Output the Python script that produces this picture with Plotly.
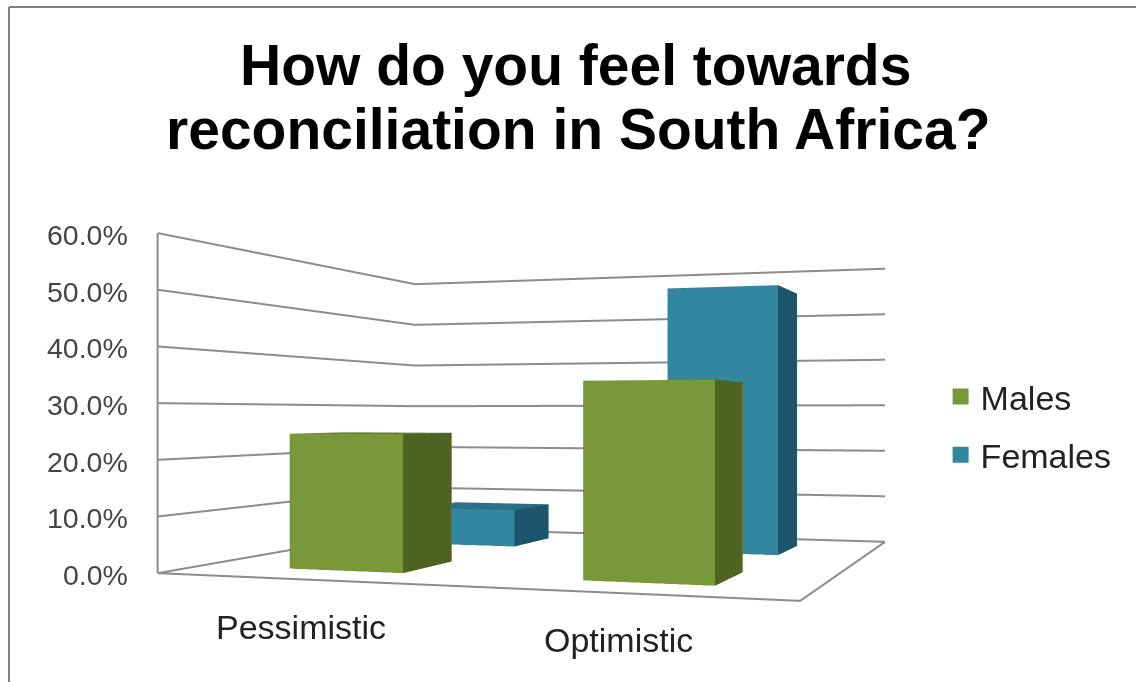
import plotly.graph_objects as go

categories = ["Pessimistic", "Optimistic"]
series_names = ["Males", "Females"]
males = [0.245, 0.337]
females = [0.077, 0.537]
title_lines = ["How do you feel towards", "reconciliation in South Africa?"]
z_ticks = [0.0, 0.1, 0.2, 0.3, 0.4, 0.5, 0.6]

FONT = "Liberation Sans"
GREEN = ("#78983a", "#4f6423", "#647f30")
BLUE = ("#33869f", "#1d566c", "#2a7088")
GRAY = "#8c8c8c"
CAT_X = [0.52, 1.51]
SER_Y = [0.47, 1.49]
HALF_W = 0.2
HALF_D = 0.2
SKEW = 0.2028  # the oblique depth of the chart's pseudo-3D box


def sx(x, y):
    return x + SKEW * y


def bar(cx, cy, h, colors, name):
    x0, x1, y0, y1 = cx - HALF_W, cx + HALF_W, cy - HALF_D, cy + HALF_D
    ys = [y0, y0, y1, y1, y0, y0, y1, y1]
    xs = [sx(a, b) for a, b in zip([x0, x1, x1, x0, x0, x1, x1, x0], ys)]
    zs = [0, 0, 0, 0, h, h, h, h]
    faces = [
        (0, 1, 5, colors[0]), (0, 5, 4, colors[0]),
        (1, 2, 6, colors[1]), (1, 6, 5, colors[1]),
        (4, 5, 6, colors[2]), (4, 6, 7, colors[2]),
        (3, 0, 4, colors[1]), (3, 4, 7, colors[1]),
        (2, 3, 7, colors[0]), (2, 7, 6, colors[0]),
    ]
    return go.Mesh3d(
        x=xs, y=ys, z=zs,
        i=[f[0] for f in faces], j=[f[1] for f in faces], k=[f[2] for f in faces],
        facecolor=[f[3] for f in faces], flatshading=True, name=name,
        lighting=dict(ambient=1, diffuse=0, specular=0, roughness=1, fresnel=0),
        hoverinfo="skip", showscale=False,
    )


fig = go.Figure()
for ci, cx in enumerate(CAT_X):
    fig.add_trace(bar(cx, SER_Y[1], females[ci], BLUE, series_names[1]))
    fig.add_trace(bar(cx, SER_Y[0], males[ci], GREEN, series_names[0]))

# value gridlines along the left and back walls, floor outline, left upright
gx, gy, gz = [], [], []
for v in z_ticks:
    gx += [sx(0, 0), sx(0, 2), sx(2, 2), None]
    gy += [0, 2, 2, None]
    gz += [v, v, v, None]
gx += [sx(0, 0), sx(2, 0), sx(2, 2), None, sx(0, 0), sx(0, 0)]
gy += [0, 0, 2, None, 0, 0]
gz += [0, 0, 0, None, 0, z_ticks[-1]]
fig.add_trace(go.Scatter3d(
    x=gx, y=gy, z=gz, mode="lines", line=dict(color=GRAY, width=4),
    showlegend=False, hoverinfo="skip",
))

# legend keys
for nm, col in zip(series_names, (GREEN[0], BLUE[0])):
    fig.add_trace(go.Scatter(
        x=[None], y=[None], mode="markers", name=nm, legendgroup=nm,
        marker=dict(symbol="square", size=17, color=col),
    ))

scene_notes = [
    dict(x=sx(0, 0), y=0, z=v, text=f"{v:.1%}", showarrow=False, xanchor="right", yanchor="middle",
         xshift=-27, yshift=-2, font=dict(size=28.5, family=FONT, color="#444444"))
    for v in z_ticks
] + [
    dict(x=sx(cx, 0), y=0, z=0, text=c, showarrow=False, xanchor="center", yanchor="middle",
         xshift=-4, yshift=-47, font=dict(size=34, family=FONT, color="#222222"))
    for cx, c in zip(CAT_X, categories)
]

axis_off = dict(visible=False, showbackground=False, showgrid=False, zeroline=False,
                showspikes=False, title="", showticklabels=False, showline=False, ticks="")
fig.update_layout(
    width=1136, height=682, autosize=False,
    margin=dict(l=0, r=0, t=0, b=0),
    paper_bgcolor="white", plot_bgcolor="white",
    font=dict(family=FONT, color="#222222"),
    xaxis=dict(visible=False), yaxis=dict(visible=False),
    legend=dict(x=0.828, y=0.2905, xanchor="left", yanchor="bottom",
                font=dict(size=34, family=FONT, color="#222222"),
                bgcolor="rgba(0,0,0,0)", tracegroupgap=11),
    scene=dict(
        domain=dict(x=[0.13, 1], y=[0, 0.786]),
        aspectmode="manual", aspectratio=dict(x=2.2155, y=0.8156, z=1),
        xaxis=dict(axis_off, range=[sx(0, 0), sx(2, 2)]),
        yaxis=dict(axis_off, range=[0, 2]),
        zaxis=dict(axis_off, range=[z_ticks[0], z_ticks[-1]]),
        camera=dict(
            eye=dict(x=0.5907, y=-2.0699, z=-0.032),
            center=dict(x=0.2638, y=0.0409, z=-0.032),
            up=dict(x=0, y=0, z=1),
            projection=dict(type="perspective"),
        ),
        annotations=scene_notes,
    ),
    annotations=[
        dict(text=title_lines[0], xref="paper", yref="paper", x=575 / 1136, y=1 - 65 / 682,
             xanchor="center", yanchor="middle", showarrow=False,
             font=dict(size=57, family=FONT, color="black", weight="bold")),
        dict(text=title_lines[1], xref="paper", yref="paper", x=578 / 1136, y=1 - 129 / 682,
             xanchor="center", yanchor="middle", showarrow=False,
             font=dict(size=57, family=FONT, color="black", weight="bold")),
    ],
    shapes=[
        dict(type="line", xref="paper", yref="paper", x0=9 / 1136, x1=1, y0=1 - 7 / 682, y1=1 - 7 / 682,
             line=dict(color="#808080", width=2)),
        dict(type="line", xref="paper", yref="paper", x0=9 / 1136, x1=9 / 1136, y0=0, y1=1 - 7 / 682,
             line=dict(color="#808080", width=2)),
    ],
)
fig.write_html("out.html", config=dict(displayModeBar=False),
               post_script="document.body.style.margin='0';")
